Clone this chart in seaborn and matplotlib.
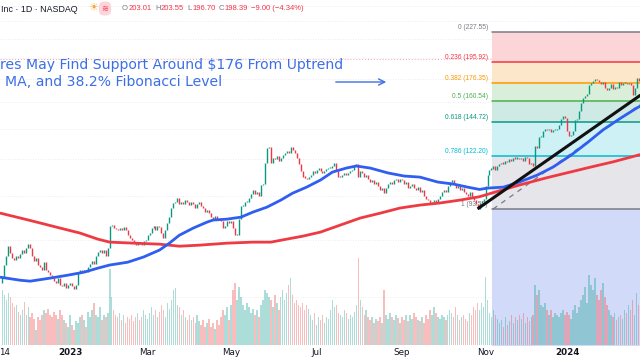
import numpy as np
import pandas as pd
import matplotlib
matplotlib.use("Agg")
import matplotlib.pyplot as plt
import seaborn as sns


# daily closes, one per session, Nov 11 2022 -> Feb 23 2024
closes = [
    66.5, 70.5, 74, 77.5, 75,   73, 72.5, 74, 73, 74.5,   76, 75, 77, 78.5, 77,
    74, 72, 73, 70.5, 70,   69, 71.5, 69, 68, 67,   66, 65, 64.5, 66, 64,
    63.5, 64.5, 63, 64, 64.5,   63.5, 62.5, 64, 68, 69,   68.5, 69, 68, 70, 71,
    72, 71, 74, 75.5, 76,   75, 76, 74, 77, 86,   86.5, 85, 84.5, 84, 85,
    84, 85.5, 84, 82, 81,   80, 79, 78, 79, 78.5,   78, 79.5, 80, 82, 83,
    85, 86, 84, 86, 85.5,   83, 81, 84, 87, 90,   94, 96.5, 97, 99, 96,
    97, 96, 98, 97, 95.5,   97, 96, 94, 96, 97,   95, 94, 92, 93, 91.5,
    90, 89, 90.5, 89, 88.5,   88, 85, 86, 88, 87,   88, 85, 82, 82, 89,
    95, 95, 97, 97, 99,   101, 103, 101, 102, 100,   105.5, 106, 118, 127, 128,
    118, 121, 120, 122, 119,   121, 123, 124, 125, 124,   128, 126, 124, 121, 117,
    113, 110, 109.5, 108.5, 110,   111, 113, 112, 114, 115,   113.5, 112, 113, 114.5, 115,
    115, 116, 118, 113, 110,   110, 111, 112, 111, 112,   113, 114, 116, 117, 110,
    113, 112, 110, 111, 109,   107, 108, 106, 107, 105,   103, 104, 101.5, 104, 106,
    107, 106, 108, 109, 107,   109, 108, 106, 107, 104,   105, 106, 104, 103, 104.5,
    102, 103, 100, 98.5, 98,   96.5, 97, 98, 97, 98.5,   100, 102, 103, 102, 105,
    107, 108, 106, 104, 105,   103, 104, 102, 101, 100,   102, 99, 98, 96, 93.5,
    96.5, 97.5, 98.5, 105, 111,   114, 114.5, 116, 114, 116,   117, 118, 117.5, 119, 118.5,
    120, 119, 121, 120.5, 121,   120, 121, 119, 121.5, 121,   117, 118, 116, 128.5, 127,
    134, 134.5, 138.5, 140, 139,   139.5, 138, 139, 139, 139.5,   143, 147, 149, 147.5, 138.5,
    135, 136, 138.5, 146, 147,   153, 159.5, 163, 165, 167,   174, 176, 178, 180, 179,
    177, 175, 177, 172, 170,   172, 175, 171, 173, 172,   177, 174, 176, 176.5, 175,
    176, 174, 166, 172, 181,   178,
]
first_open = 64.5

# volume, millions
volumes = [
    55, 50, 45, 52, 48,   42, 38, 40, 33, 30,   35, 43, 30, 38, 28,
    32, 26, 15, 28, 25,   30, 35, 32, 36, 30,   28, 33, 30, 26, 35,
    30, 25, 22, 18, 30,   20, 15, 24, 22, 28,   30, 25, 18, 33, 28,
    35, 42, 30, 28, 38,   25, 30, 28, 32, 76,   48, 35, 30, 28, 32,
    25, 30, 22, 28, 26,   30, 24, 28, 32, 25,   28, 35, 30, 26, 32,
    38, 30, 35, 28, 33,   40, 35, 28, 42, 36,   45, 55, 57, 40, 38,
    30, 35, 28, 25, 30,   25, 28, 22, 30, 24,   20, 25, 18, 22, 26,
    18, 22, 16, 25, 20,   28, 35, 30, 38, 25,   40, 55, 62, 45, 58,
    48, 40, 35, 42, 38,   32, 36, 30, 35, 28,   40, 45, 55, 52, 48,
    45, 38, 50, 42, 35,   48, 55, 45, 52, 60,   67, 50, 42, 45, 40,
    38, 42, 35, 40, 36,   30, 25, 32, 20, 28,   25, 30, 22, 28, 26,
    35, 45, 38, 40, 32,   30, 28, 35, 32, 26,   30, 28, 33, 40, 87,
    45, 38, 30, 35, 28,   25, 28, 22, 26, 24,   28, 22, 55, 30, 26,
    32, 28, 25, 30, 27,   22, 28, 25, 30, 24,   30, 26, 32, 28, 25,
    24, 28, 22, 30, 26,   35, 30, 38, 32, 28,   26, 30, 28, 25, 30,
    35, 32, 28, 38, 30,   25, 28, 30, 26, 24,   32, 30, 38, 35, 42,
    35, 42, 38, 68, 45,   32, 28, 35, 30, 26,   22, 25, 18, 28, 20,
    24, 30, 22, 28, 25,   30, 26, 32, 22, 28,   24, 28, 30, 60, 50,
    55, 40, 38, 42, 35,   30, 35, 28, 32, 30,   28, 32, 35, 30, 33,
    30, 26, 35, 40, 32,   38, 45, 50, 58, 42,   70, 60, 55, 67, 50,
    45, 55, 62, 48, 40,   35, 30, 28, 32, 25,   28, 30, 26, 35, 32,
    40, 35, 45, 30, 52,   40,
]

# moving averages as drawn (session index, price)
ma50_x = [-1, 9, 14, 24, 33, 41, 48, 54, 63, 71, 79, 84, 89, 96, 103, 106, 113, 120,
          126, 133, 140, 146, 153, 160, 166, 173, 178, 185, 194, 202, 210, 219, 227,
          234, 240, 244, 252, 260, 269, 277, 286, 294, 302, 311, 319, 321]
ma50_y = [66.4, 65.4, 65.1, 66.1, 67.1, 68.1, 69.5, 70.6, 71.6, 73.5, 76.1, 78.8, 82.0,
          85.0, 87.6, 88.5, 88.9, 89.8, 92.1, 94.4, 97.8, 101.3, 104.4, 108.2, 112.6,
          114.9, 116.1, 114.9, 112.1, 110.4, 109.8, 107.1, 106.0, 104.4, 103.2, 103.9,
          104.4, 107.1, 110.9, 115.5, 122.6, 130.3, 139.1, 147.7, 155.3, 157.0]
ma200_x = [-1, 9, 19, 29, 39, 48, 54, 66, 79, 89, 99, 113, 126, 135, 143, 151, 160,
           170, 180, 190, 200, 210, 220, 230, 240, 250, 260, 274, 287, 296, 307, 321]
ma200_y = [91.6, 89.4, 87.2, 85.0, 82.9, 80.4, 79.2, 78.8, 78.4, 77.6, 78.0, 78.8, 79.2,
           79.2, 80.4, 81.6, 83.3, 86.3, 89.4, 91.6, 94.0, 95.4, 96.4, 97.8, 99.5,
           102.5, 105.5, 109.5, 113.0, 115.5, 118.5, 123.0]

# fibonacci retracement
fib_ratios = [0, 0.236, 0.382, 0.5, 0.618, 0.786, 1]
fib_prices = [227.55, 195.92, 176.35, 160.54, 144.72, 122.20, 93.52]
fib_line_colors = ['#787b86', '#f23645', '#ff9800', '#4caf50', '#089981', '#00bcd4', '#787b86']
fib_fill_colors = ['#fbd5d8', '#fde7cb', '#d9efd9', '#cfeae4', '#cdf1f5', '#e5e5ea', '#d2daf9']
fib_start = 246.3

trend_x = [239, 321]
trend_y = [93.6, 165.8]
fib_diag_x = [246.8, 321]
fib_diag_y = [93.52, 158.5]

last_price = 198.39
grid_prices = [60, 80, 100, 120, 140, 160, 180, 200, 220, 240, 260]

month_ticks = [1, 34, 73, 115, 158, 201, 243, 284]
month_labels = ['14', '2023', 'Mar', 'May', 'Jul', 'Sep', 'Nov', '2024']

ohlc_keys = ['O', 'H', 'L', 'C']
ohlc_vals = ['203.01', '203.55', '196.70', '198.39']
change_text = '\u22129.00 (\u22124.34%)'

UP = '#089981'
DOWN = '#f23645'

sns.set_theme(style='white')
plt.rcParams['font.family'] = ['DejaVu Sans']

df = pd.DataFrame({'close': closes})
df['open'] = [first_open] + closes[:-1]
df['x'] = np.arange(len(df))
df['vol'] = volumes
df['up'] = df['close'] >= df['open']

fig = plt.figure(figsize=(6.4, 3.6), dpi=100)
fig.patch.set_facecolor('white')
rect = [0, 15 / 360, 1, 345 / 360]
xlim = (-1.21, 320.7)

ax = fig.add_axes(rect)
ax.set_yscale('log')
ax.set_xlim(*xlim)
ax.set_ylim(47.24, 267.3)
ax.set_facecolor('white')

for p in grid_prices:
    ax.axhline(p, color='#e3e6ee', lw=0.6, ls=(0, (1, 2)), zorder=0)
ax.axhline(last_price, color=DOWN, alpha=0.45, lw=0.7, ls=(0, (1, 2)), zorder=0.2)

# fib bands and levels
for k in range(len(fib_prices)):
    hi = fib_prices[k]
    lo = fib_prices[k + 1] if k + 1 < len(fib_prices) else 40
    ax.fill_between([fib_start, 330], lo, hi, color=fib_fill_colors[k], lw=0, zorder=0.5)
for r, p, c in zip(fib_ratios, fib_prices, fib_line_colors):
    ax.plot([fib_start, 330], [p, p], color=c, lw=1.1, zorder=1)
    ax.annotate(f'{r:g} ({p:.2f})', xy=(fib_start, p), xytext=(-3, 0.8),
                textcoords='offset points', ha='right', va='bottom',
                fontsize=4.8, color=c, family='Liberation Sans', zorder=1.5)

ax.plot(fib_diag_x, fib_diag_y, color='#787b86', lw=0.9, ls=(0, (4, 4)), zorder=1.6)

# candles
lo = np.minimum(df['open'], df['close'])
hi = np.maximum(np.maximum(df['open'], df['close']), lo * 1.006)
ax.vlines(df['x'], lo, hi, colors=np.where(df['up'], UP, DOWN), lw=1.0, zorder=2)

sns.lineplot(x=ma200_x, y=ma200_y, ax=ax, color='#ee3a43', lw=2.0, zorder=3)
sns.lineplot(x=ma50_x, y=ma50_y, ax=ax, color='#2f5ef0', lw=2.0, zorder=3)
ax.plot(trend_x, trend_y, color='#111111', lw=2.2, zorder=4, solid_capstyle='butt')

ax.set_xticks([])
ax.set_yticks([])
ax.minorticks_off()
ax.set_ylabel('')
for s in ax.spines.values():
    s.set_visible(False)

# volume overlay
vax = fig.add_axes(rect)
vax.patch.set_alpha(0)
vax.set_xlim(*xlim)
vax.set_ylim(0, 345)
vax.bar(df['x'], df['vol'], width=0.75,
        color=np.where(df['up'], '#26a69a', '#ef5350'), alpha=0.38, lw=0)
vax.set_yticks([])
vax.set_xticks(month_ticks)
vax.set_xticklabels(month_labels)
vax.tick_params(axis='x', length=0, pad=2.5, labelsize=6.3, labelcolor='#131722')
for t in vax.get_xticklabels():
    if t.get_text() in ('2023', '2024'):
        t.set_fontweight('bold')
for s in vax.spines.values():
    s.set_visible(False)


# header
def fx(px):
    return px / 640


def fy(py):
    return 1 - py / 360


fig.text(fx(1), fy(9), 'Inc \u00b7 1D \u00b7 NASDAQ', fontsize=6.4, color='#131722',
         va='center', family='Liberation Sans')
fig.text(fx(93), fy(8.5), '\u2600', fontsize=8, color='#f7a23b', va='center', ha='center')
fig.text(fx(105), fy(8.5), '\u224b', fontsize=6, color='#f23645', va='center', ha='center',
         bbox=dict(boxstyle='round,pad=0.3,rounding_size=0.6', fc='#fcd5db', ec='none'))

renderer = fig.canvas.get_renderer()
cur = 122
for key, val in zip(ohlc_keys, ohlc_vals):
    t = fig.text(fx(cur), fy(9), key, fontsize=5.5, color='#787b86', va='center',
                 family='Liberation Sans')
    cur = t.get_window_extent(renderer).x1 + 0.3
    t = fig.text(fx(cur), fy(9), val, fontsize=5.5, color=DOWN, va='center',
                 family='Liberation Sans')
    cur = t.get_window_extent(renderer).x1 + 3.5
fig.text(fx(cur), fy(9), change_text, fontsize=5.5, color=DOWN, va='center',
         family='Liberation Sans')

# headline
title_color = '#3c6fe6'
fig.text(fx(0), fy(65), 'res May Find Support Around $176 From Uptrend', fontsize=10.1,
         color=title_color, va='center')
fig.text(fx(5), fy(82), 'MA, and 38.2% Fibonacci Level', fontsize=10.1,
         color=title_color, va='center')
ax.annotate('', xy=(fx(389), fy(82)), xytext=(fx(333), fy(82)), xycoords='figure fraction',
            arrowprops=dict(arrowstyle='->', color=title_color, lw=1.0, mutation_scale=11))

fig.savefig('out.png', dpi=100, facecolor='white')
